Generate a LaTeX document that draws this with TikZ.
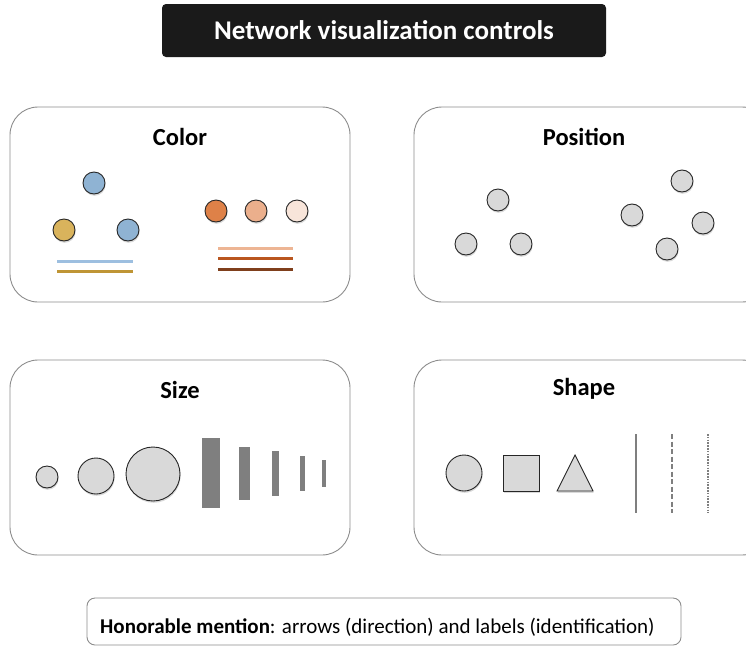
\documentclass[tikz,border=0pt]{standalone}
\usepackage{fontspec}
\setmainfont{Carlito}
\usetikzlibrary{shadows}

\definecolor{titlebg}{HTML}{1A1A1A}
\definecolor{frame}{HTML}{8C8C8C}
\definecolor{nodegray}{HTML}{D9D9D9}
\definecolor{bargray}{HTML}{7F7F7F}
\definecolor{steelblue}{HTML}{8FB3D3}
\definecolor{goldnode}{HTML}{D9B35C}
\definecolor{orangenode}{HTML}{DE8148}
\definecolor{peachnode}{HTML}{EBAF8C}
\definecolor{palenode}{HTML}{F8E5DA}
\definecolor{blueline}{HTML}{9DBFE0}
\definecolor{goldline}{HTML}{BF9535}
\definecolor{peachline}{HTML}{EDB594}
\definecolor{rustline}{HTML}{B9561F}
\definecolor{brownline}{HTML}{7F3F1C}

\tikzset{
  panel/.style={draw=frame, line width=0.9pt, rounded corners=28pt},
  paneltitle/.style={font=\bfseries\fontsize{24.5}{28}\selectfont},
  dot/.style={circle, draw=black!85, line width=0.9pt, inner sep=0pt,
    minimum size=#1, fill=nodegray,
    drop shadow={opacity=0.3, shadow xshift=0.6pt, shadow yshift=-1.8pt}},
  dot/.default=22pt,
  stroke/.style={line width=3pt},
  bar/.style={fill=bargray},
  edgeline/.style={draw=bargray, line width=2.2pt}
}

\begin{document}
\begin{tikzpicture}[x=1pt,y=-1pt]
  \clip (0,0) rectangle (746,648);

  \node[fill=titlebg, rounded corners=4pt, minimum width=444pt, minimum height=53pt,
        text=white, font=\bfseries\fontsize{27}{31}\selectfont] (title) at (384,30.5) {Network visualization controls};

  % color
  \draw[panel] (10,107) rectangle (350,302);
  \node[paneltitle] (colortitle) at (180,137) {Color};
  \node[dot, fill=steelblue] (ca) at (94,183) {};
  \node[dot, fill=goldnode] (cb) at (64,230) {};
  \node[dot, fill=steelblue] (cc) at (128,230) {};
  \node[dot, fill=orangenode] (cd) at (216,211) {};
  \node[dot, fill=peachnode] (ce) at (256,211) {};
  \node[dot, fill=palenode] (cf) at (297,211) {};
  \draw[stroke, blueline] (57,261) -- (133,261);
  \draw[stroke, goldline] (57,271) -- (133,271);
  \draw[stroke, peachline] (218,248) -- (293,248);
  \draw[stroke, rustline] (218,258) -- (293,258);
  \draw[stroke, brownline] (218,269) -- (293,269);

  % position
  \draw[panel] (414,107) rectangle (770,302);
  \node[paneltitle] (postitle) at (584,137) {Position};
  \node[dot] (pa) at (498,200) {};
  \node[dot] (pb) at (466,244) {};
  \node[dot] (pc) at (521,244) {};
  \node[dot] (pd) at (682,181) {};
  \node[dot] (pe) at (632,215) {};
  \node[dot] (pf) at (703,223) {};
  \node[dot] (pg) at (667,249) {};

  % size
  \draw[panel] (10,360) rectangle (350,555);
  \node[paneltitle] (sizetitle) at (180,390) {Size};
  \node[dot=22pt] (sa) at (47,477) {};
  \node[dot=36pt] (sb) at (96,476) {};
  \node[dot=54pt] (sc) at (153,474) {};
  \fill[bar] (202,438) rectangle (220,508);
  \fill[bar] (239,447) rectangle (250,500);
  \fill[bar] (272,451) rectangle (279,496);
  \fill[bar] (300,456) rectangle (305,491);
  \fill[bar] (322,460) rectangle (326,487);

  % shape
  \draw[panel] (414,360) rectangle (770,555);
  \node[paneltitle] (shapetitle) at (584,389) {Shape};
  \node[dot=36pt] (sha) at (464,473) {};
  \draw[fill=nodegray, draw=black!85, line width=0.9pt,
        drop shadow={opacity=0.3, shadow xshift=0.6pt, shadow yshift=-1.8pt}]
        (503,455) rectangle (539,491);
  \draw[fill=nodegray, draw=black!85, line width=0.9pt,
        drop shadow={opacity=0.3, shadow xshift=0.6pt, shadow yshift=-1.8pt}]
        (557,491) -- (575,455) -- (593,491) -- cycle;
  \draw[edgeline] (636,434) -- (636,513);
  \draw[edgeline, dash pattern=on 5pt off 2.5pt] (672,434) -- (672,513);
  \draw[edgeline, dash pattern=on 1.6pt off 1.2pt] (708,434) -- (708,513);

  % note
  \draw[draw=frame, line width=0.9pt, rounded corners=8pt] (87,598) rectangle (681,645);
  \node[anchor=west, font=\fontsize{21}{24}\selectfont, inner sep=0pt] (note) at (100,627)
    {\textbf{Honorable mention}: arrows (direction) and labels (identification)};
\end{tikzpicture}
\end{document}
